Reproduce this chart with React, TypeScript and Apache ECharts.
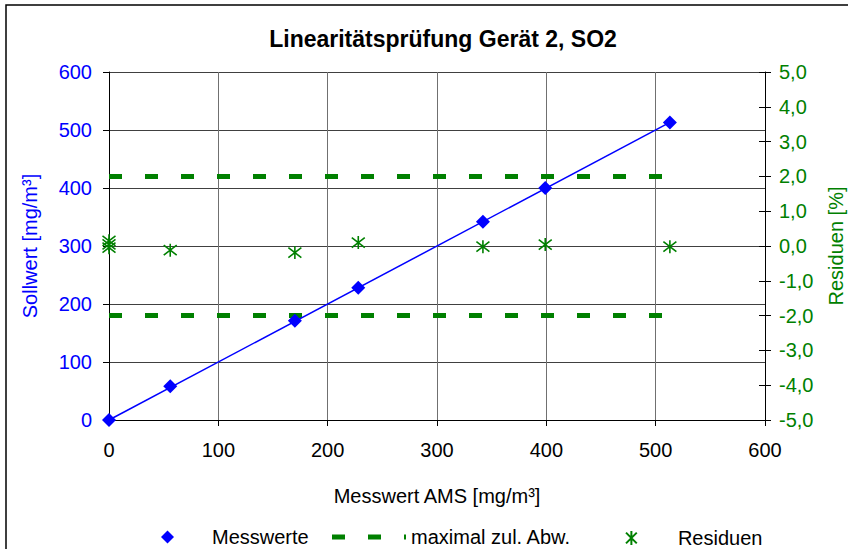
import React, { useEffect, useRef } from "react";
import * as echarts from "echarts";

const titleText = "Linearitätsprüfung Gerät 2, SO2";
const messX = [0, 56, 170, 228, 342, 399, 513];
const messY = [0, 58, 171, 228, 342, 400, 513];
const regX = [0, 513];
const regY = [0, 513];
const limitX = [0, 513];
const limitUpper = [2, 2];
const limitLower = [-2, -2];
const resX = [0, 0, 0, 56, 170, 228, 342, 399, 513];
const resY = [0.15, 0.05, -0.05, -0.12, -0.19, 0.1, -0.02, 0.04, -0.02];

const FONT = "Liberation Sans, Arial, sans-serif";
const GREEN = "#008000";
const BLUE = "#0000ff";
const STAR = "path://M0,0L10,10M10,0L0,10M5,-1.5L5,11.5";
const DASH_ICON = "path://M0,0h13v5h-13zM36,0h13v5h-13zM72,0h2v5h-2z";

const zip = (a: number[], b: number[]) => a.map((v, i) => [v, b[i]]);

export default function App() {
  const ref = useRef<HTMLDivElement>(null);
  useEffect(() => {
    if (!ref.current) return;
    const chart = echarts.init(ref.current, undefined, { renderer: "svg" });
    const legendText = { fontSize: 20, color: "#000", fontFamily: FONT };
    chart.setOption({
      animation: false,
      backgroundColor: "#ffffff",
      textStyle: { fontFamily: FONT },
      title: {
        text: titleText,
        left: 438,
        top: 22,
        textAlign: "center",
        textStyle: { fontSize: 23, fontWeight: "bold", color: "#000", fontFamily: FONT },
      },
      grid: {
        left: 109,
        right: 83,
        top: 72,
        bottom: 129,
        containLabel: false,
        outerBoundsMode: "none",
      },
      legend: [
        {
          data: [{ name: "Messwerte", icon: "diamond" }],
          left: 156,
          top: 522,
          itemWidth: 13,
          itemHeight: 13,
          textStyle: { ...legendText, padding: [0, 0, 0, 33] },
          selectedMode: false,
        },
        {
          data: [{ name: "maximal zul. Abw.", icon: DASH_ICON, itemStyle: { color: GREEN } }],
          left: 327,
          top: 522,
          itemWidth: 74,
          itemHeight: 5,
          textStyle: legendText,
          selectedMode: false,
        },
        {
          data: [{ name: "Residuen", icon: STAR }],
          left: 620,
          top: 523,
          itemWidth: 13,
          itemHeight: 14,
          textStyle: { ...legendText, padding: [0, 0, 0, 35] },
          selectedMode: false,
        },
      ],
      xAxis: {
        type: "value",
        min: 0,
        max: 600,
        interval: 100,
        name: "Messwert AMS [mg/m³]",
        nameLocation: "middle",
        nameGap: 66,
        nameTextStyle: { fontSize: 20, color: "#000", fontFamily: FONT },
        axisLine: { show: true, onZero: false, lineStyle: { color: "#000", width: 1 } },
        axisTick: { show: true, length: 6, lineStyle: { color: "#000" } },
        axisLabel: { fontSize: 20, color: "#000", margin: 20, fontFamily: FONT },
        splitLine: { show: true, lineStyle: { color: "#707070", width: 1 } },
      },
      yAxis: [
        {
          type: "value",
          min: 0,
          max: 600,
          interval: 100,
          name: "Sollwert [mg/m³]",
          nameLocation: "middle",
          nameRotate: 90,
          nameGap: 69,
          nameTextStyle: { fontSize: 20, color: BLUE, fontFamily: FONT },
          axisLine: { show: true, lineStyle: { color: "#000", width: 1 } },
          axisTick: { show: true, length: 6, lineStyle: { color: "#000" } },
          axisLabel: { fontSize: 20, color: BLUE, margin: 17, fontFamily: FONT },
          splitLine: { show: true, lineStyle: { color: "#404040", width: 1 } },
        },
        {
          type: "value",
          min: -5,
          max: 5,
          interval: 1,
          position: "right",
          name: "Residuen [%]",
          nameLocation: "middle",
          nameRotate: 90,
          nameGap: 61,
          nameTextStyle: { fontSize: 20, color: GREEN, fontFamily: FONT },
          axisLine: { show: true, lineStyle: { color: "#000", width: 1 } },
          axisTick: { show: true, length: 6, lineStyle: { color: "#000" } },
          axisLabel: {
            fontSize: 20,
            color: GREEN,
            margin: 14,
            fontFamily: FONT,
            formatter: (v: number) => v.toFixed(1).replace(".", ","),
          },
          splitLine: { show: false },
        },
        {
          type: "value",
          min: -5,
          max: 5,
          interval: 1,
          position: "right",
          axisLine: { show: false },
          axisTick: { show: true, inside: true, length: 6, lineStyle: { color: "#000" } },
          axisLabel: { show: false },
          splitLine: { show: false },
        },
      ],
      graphic: [
        {
          type: "rect",
          shape: { x: 6, y: 5, width: 900, height: 600 },
          style: { fill: "none", stroke: "#000", lineWidth: 1.5 },
          silent: true,
          z: -1,
        },
      ],
      series: [
        {
          name: "Regression",
          type: "line",
          data: zip(regX, regY),
          showSymbol: false,
          symbol: "none",
          lineStyle: { color: BLUE, width: 1.5 },
          z: 3,
        },
        {
          name: "Messwerte",
          type: "scatter",
          data: zip(messX, messY),
          symbol: "diamond",
          symbolSize: 14,
          itemStyle: { color: BLUE, opacity: 1 },
          z: 4,
        },
        {
          name: "maximal zul. Abw.",
          type: "line",
          yAxisIndex: 1,
          data: zip(limitX, limitUpper),
          showSymbol: false,
          symbol: "none",
          itemStyle: { color: GREEN },
          lineStyle: { color: GREEN, width: 5, type: [13, 23] },
          z: 2,
        },
        {
          name: "maximal zul. Abw.",
          type: "line",
          yAxisIndex: 1,
          data: zip(limitX, limitLower),
          showSymbol: false,
          symbol: "none",
          itemStyle: { color: GREEN },
          lineStyle: { color: GREEN, width: 5, type: [13, 23] },
          z: 2,
        },
        {
          name: "Residuen",
          type: "scatter",
          yAxisIndex: 1,
          data: zip(resX, resY),
          symbol: STAR,
          symbolSize: 13,
          itemStyle: { color: GREEN, borderColor: GREEN, borderWidth: 1.6, opacity: 1 },
          z: 4,
        },
      ],
    });
    return () => chart.dispose();
  }, []);
  return (
    <div
      ref={ref}
      style={{ position: "fixed", left: 0, top: 0, width: 848, height: 549, background: "#fff" }}
    />
  );
}
